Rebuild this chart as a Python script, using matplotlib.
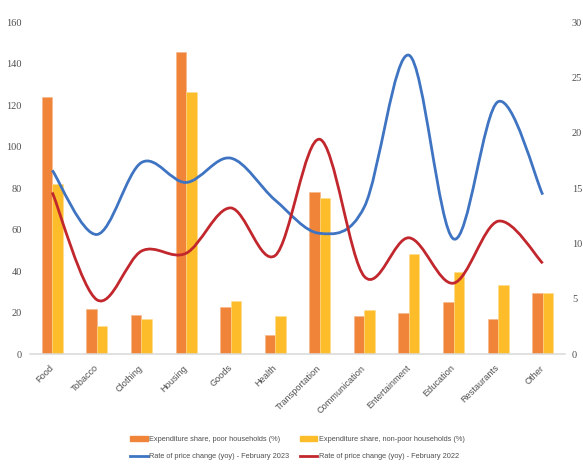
import numpy as np
import matplotlib
matplotlib.use("Agg")
import matplotlib.pyplot as plt
from matplotlib.path import Path
from matplotlib.patches import PathPatch
from matplotlib.lines import Line2D

# Data
categories = ["Food", "Tobacco", "Clothing", "Housing", "Goods", "Health",
              "Transportation", "Communication", "Entertainment", "Education",
              "Restaurants", "Other"]
share_poor = [124, 21.5, 18.8, 145.4, 22.7, 9.2, 77.9, 18.3, 19.9, 25.2, 16.7, 29.4]
share_nonpoor = [82, 13.5, 16.7, 126.1, 25.7, 18.3, 75.3, 21.0, 48.2, 39.5, 33.3, 29.4]
rate_2023 = [16.6, 10.8, 17.3, 15.5, 17.7, 13.9, 10.9, 13.3, 27.0, 10.4, 22.8, 14.4]
rate_2022 = [14.6, 4.9, 9.3, 9.1, 13.2, 8.9, 19.4, 7.0, 10.5, 6.4, 12.0, 8.2]

c_poor = "#F0853A"
c_nonpoor = "#FDBD2A"
c_2023 = "#3F74C2"
c_2022 = "#C1272D"
txt = "#505050"


def smooth_path(xs, ys, t=1 / 6):
    # Bezier segments like Excel's "smoothed line"
    pts = np.column_stack([xs, ys]).astype(float)
    n = len(pts)
    verts = [pts[0]]
    codes = [Path.MOVETO]
    for i in range(n - 1):
        p0 = pts[max(i - 1, 0)]
        p1 = pts[i]
        p2 = pts[i + 1]
        p3 = pts[min(i + 2, n - 1)]
        verts += [p1 + (p2 - p0) * t, p2 - (p3 - p1) * t, p2]
        codes += [Path.CURVE4] * 3
    return Path(verts, codes)


fig = plt.figure(figsize=(5.83, 4.69), dpi=100)
ax = fig.add_axes([30 / 583, 1 - 354 / 469, 535 / 583, 332 / 469])
ax2 = ax.twinx()

x = np.arange(len(categories))
w = 0.235
ax.bar(x - w / 2, share_poor, w, color=c_poor, edgecolor="#F8B588", linewidth=0.4)
ax.bar(x + w / 2, share_nonpoor, w, color=c_nonpoor, edgecolor="#FEDC8C", linewidth=0.4)

for ys, col in [(rate_2023, c_2023), (rate_2022, c_2022)]:
    ax2.add_patch(PathPatch(smooth_path(x, ys), facecolor="none", edgecolor=col,
                            linewidth=2.0, capstyle="butt"))

ax.set_xlim(-0.5, len(categories) - 0.5)
ax.set_ylim(0, 160)
ax2.set_ylim(0, 30)
ax.set_yticks(range(0, 161, 20))
ax2.set_yticks(range(0, 31, 5))

for a in (ax, ax2):
    for s in a.spines.values():
        s.set_visible(False)
ax.spines["bottom"].set_visible(True)
ax.spines["bottom"].set_color("#D9D9D9")
ax.spines["bottom"].set_linewidth(1.1)

ax.set_xticks(x)
ax.set_xticklabels(categories, rotation=45, ha="right", va="center",
                   rotation_mode="anchor", fontsize=6.6, color=txt,
                   family="Liberation Sans")
ax.tick_params(axis="x", length=0, pad=9)
ax.tick_params(axis="y", length=0, pad=6, labelsize=7.5, labelcolor=txt)
ax2.tick_params(axis="y", length=0, pad=5, labelsize=7.5, labelcolor=txt)
for lab in ax.get_yticklabels() + ax2.get_yticklabels():
    lab.set_family("Liberation Serif")

handles = [
    plt.Rectangle((0, 0), 1, 1, color=c_poor),
    Line2D([], [], color=c_2023, lw=2.0),
    plt.Rectangle((0, 0), 1, 1, color=c_nonpoor),
    Line2D([], [], color=c_2022, lw=2.0),
]
labels = [
    "Expenditure share, poor households (%)",
    "Rate of price change (yoy) - February 2023",
    "Expenditure share, non-poor households (%)",
    "Rate of price change (yoy) - February 2022",
]
leg = fig.legend(handles, labels, loc="center", ncol=2,
                 bbox_to_anchor=(297.5 / 583, 1 - 448 / 469), frameon=False,
                 prop={"family": "Liberation Sans", "size": 5.3},
                 handlelength=2.4, handletextpad=0.25, columnspacing=1.4,
                 labelspacing=1.35, handleheight=0.75)
for t in leg.get_texts():
    t.set_color(txt)

fig.savefig("out.png", dpi=100)
